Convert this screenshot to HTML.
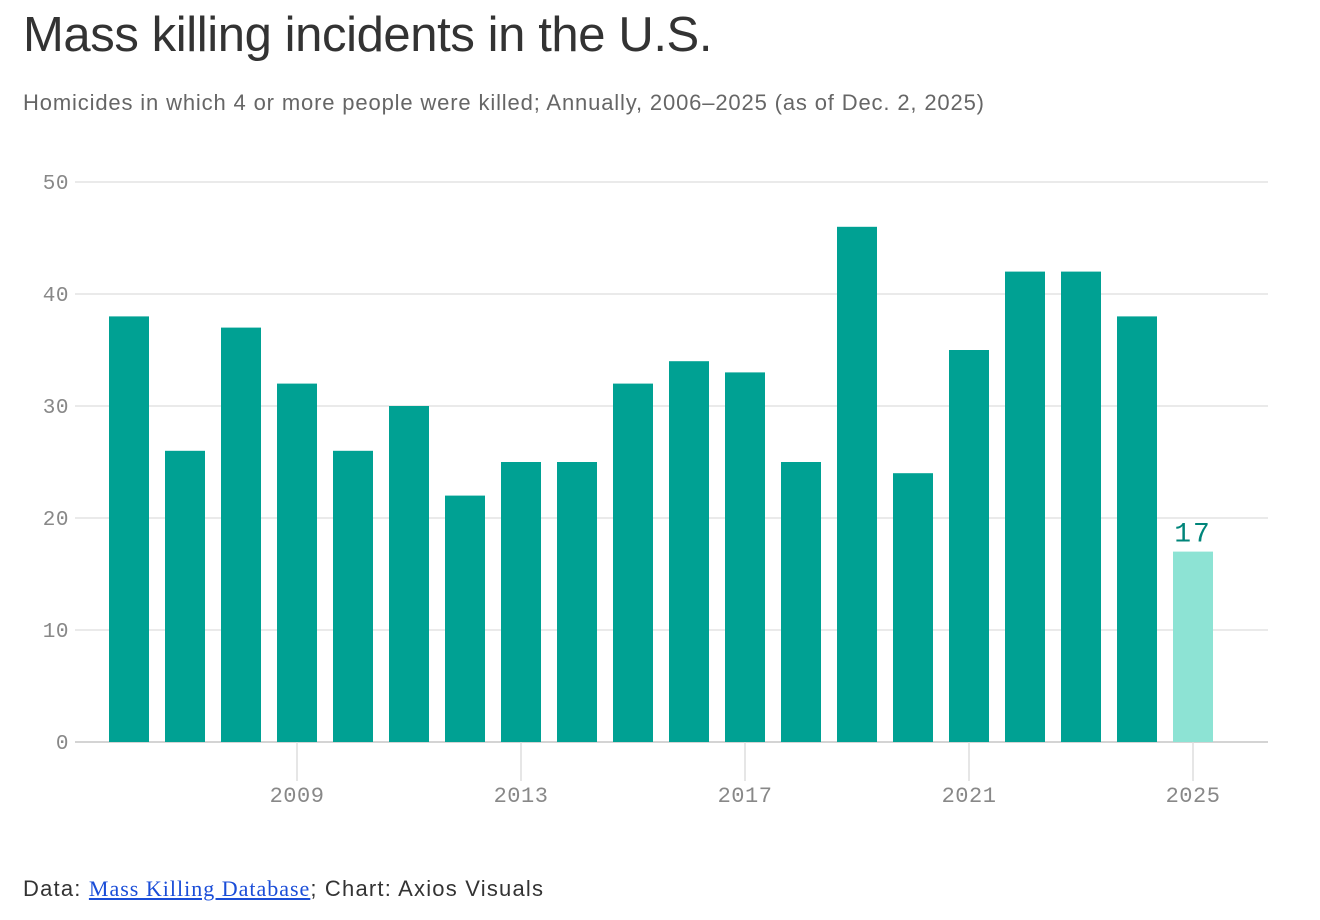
<!DOCTYPE html>
<html><head><meta charset="utf-8"><style>
body{margin:0;background:#fff;width:1320px;height:920px;overflow:hidden;font-family:"Liberation Sans",sans-serif}
#title{position:absolute;left:23px;top:7px;font-size:49px;color:#333;margin:0;font-weight:normal;letter-spacing:-0.4px}
#sub{position:absolute;left:23px;top:90px;font-size:22px;color:#666;letter-spacing:0.85px}
#foot{position:absolute;left:23px;top:876px;font-size:22px;color:#333;letter-spacing:1.2px}
#foot a{font-family:"Liberation Serif",serif;color:#1a4dd8;text-decoration:underline;letter-spacing:1px}
svg{position:absolute;left:0;top:0}
</style></head><body>
<h1 id="title">Mass killing incidents in the U.S.</h1>
<div id="sub">Homicides in which 4 or more people were killed; Annually, 2006–2025 (as of Dec. 2, 2025)</div>
<svg id="chart" width="1320" height="920"></svg>
<div id="foot">Data: <a>Mass Killing Database</a>; Chart: Axios Visuals</div>
<script>
const years=[2006,2007,2008,2009,2010,2011,2012,2013,2014,2015,2016,2017,2018,2019,2020,2021,2022,2023,2024,2025];
const values=[38,26,37,32,26,30,22,25,25,32,34,33,25,46,24,35,42,42,38,17];
const yTicks=[0,10,20,30,40,50];
const xTicks=[2009,2013,2017,2021,2025];
const NS="http://www.w3.org/2000/svg",svg=document.getElementById('chart');
const y=v=>742-v*11.2, x=yr=>129+(yr-2006)*56;
function mk(t,a){const e=document.createElementNS(NS,t);for(const k in a)e.setAttribute(k,a[k]);svg.appendChild(e);return e;}
yTicks.forEach(t=>{
 const l=mk('line',{x1:75,x2:1268,y1:y(t),y2:y(t),stroke:t?'#e4e4e4':'#d4d4d4','stroke-width':t?1.5:2});
 
 
 const tx=mk('text',{x:69,y:y(t)+7,'text-anchor':'end','font-family':'Liberation Mono, monospace','font-size':21,'letter-spacing':0.5,fill:'#888'});
 tx.textContent=t;
 
 
});
xTicks.forEach(t=>{
 const l=mk('line',{x1:x(t),x2:x(t),y1:742,y2:781,stroke:'#ddd','stroke-width':1.5});
 
 
 const tx=mk('text',{x:x(t),y:802,'text-anchor':'middle','font-family':'Liberation Mono, monospace','font-size':22,'letter-spacing':0.5,fill:'#888'});
 tx.textContent=t;
 
 
});
years.forEach((yr,i)=>{
 const last=i===years.length-1;
 const r=mk('rect',{x:x(yr)-20,y:y(values[i]),width:40,height:742-y(values[i]),fill:last?'#8de3d4':'#00a193'});
 
 
 if(last){
  const tx=mk('text',{x:x(yr),y:y(values[i])-10,'text-anchor':'middle','font-family':'Liberation Mono, monospace','font-size':28,'letter-spacing':2,fill:'#00857a'});
  tx.textContent=values[i];
  
  
 }
});
</script>
</body></html>
